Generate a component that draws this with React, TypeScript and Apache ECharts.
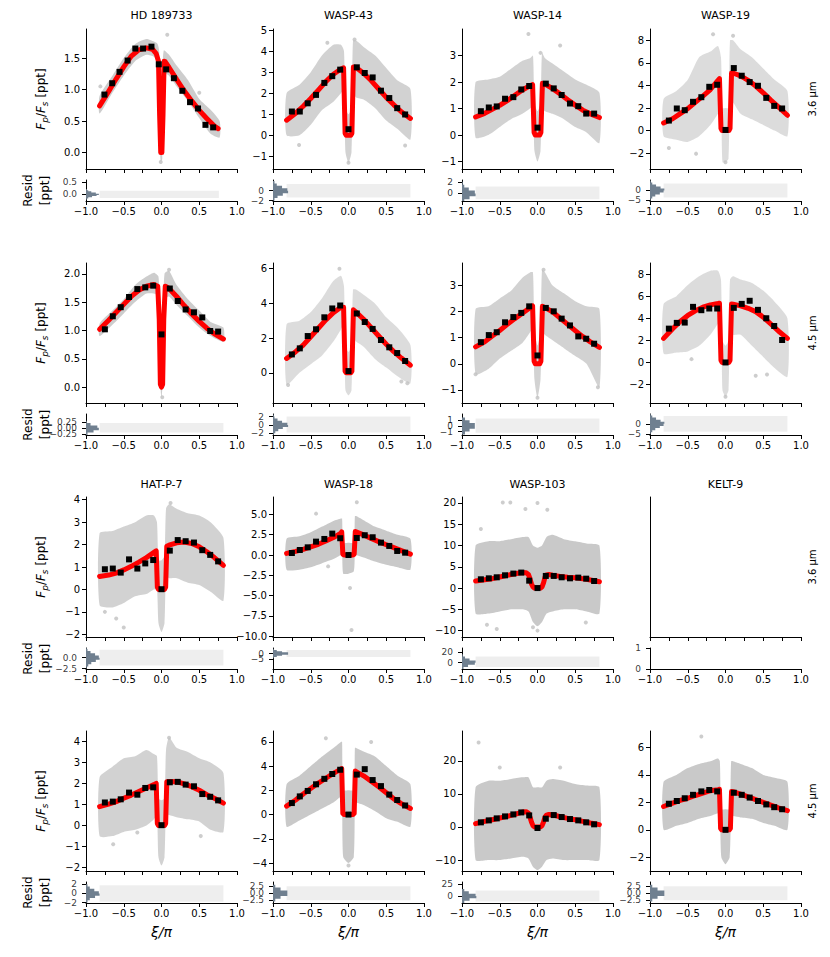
import React, { useEffect, useRef } from "react";
import * as echarts from "echarts";

// ---------- shared values ----------
const BIN_X = [-0.75, -0.645, -0.54, -0.43, -0.32, -0.215, -0.11, 0, 0.11, 0.215, 0.32, 0.43, 0.54, 0.645, 0.75];
const STD_CX = [-0.82, -0.65, -0.5, -0.35, -0.2, -0.1, -0.06, -0.04, 0, 0.04, 0.06, 0.1, 0.2, 0.35, 0.5, 0.65, 0.82];
const DIP_X_STD = [-0.82, -0.7, -0.6, -0.5, -0.4, -0.3, -0.2, -0.1, -0.065, -0.045, -0.03, 0.03, 0.045, 0.065, 0.1, 0.2, 0.3, 0.4, 0.5, 0.6, 0.7, 0.82];
const DIP_X_W19 = [-0.82, -0.7, -0.6, -0.5, -0.4, -0.3, -0.2, -0.1, -0.08, -0.06, -0.045, 0.045, 0.06, 0.08, 0.1, 0.2, 0.3, 0.4, 0.5, 0.6, 0.7, 0.82];
const DIP_X_HP7 = [-0.82, -0.7, -0.6, -0.5, -0.4, -0.3, -0.2, -0.1, -0.07, -0.055, -0.04, 0.04, 0.055, 0.07, 0.1, 0.2, 0.3, 0.4, 0.5, 0.6, 0.7, 0.82];
const DIP_X_W18 = [-0.82, -0.7, -0.6, -0.5, -0.4, -0.3, -0.2, -0.1, -0.09, -0.075, -0.06, 0.06, 0.075, 0.09, 0.1, 0.2, 0.3, 0.4, 0.5, 0.6, 0.7, 0.82];
const DIP_X_W103 = [-0.82, -0.7, -0.6, -0.5, -0.4, -0.3, -0.2, -0.15, -0.12, -0.1, -0.08, -0.06, -0.04, 0.04, 0.06, 0.08, 0.1, 0.12, 0.15, 0.2, 0.3, 0.4, 0.5, 0.6, 0.7, 0.82];
const DIP_X_K9 = [-0.82, -0.7, -0.6, -0.5, -0.4, -0.3, -0.2, -0.1, -0.08, -0.065, -0.05, 0.05, 0.065, 0.08, 0.1, 0.2, 0.3, 0.4, 0.5, 0.6, 0.7, 0.82];

// ---------- HD 189733, 3.6 um ----------
const HD36_MODEL_X = [-0.82, -0.7, -0.6, -0.5, -0.4, -0.3, -0.2, -0.12, -0.07, -0.04, -0.025, -0.01, 0.005, 0.02, 0.035, 0.05, 0.1, 0.2, 0.3, 0.4, 0.5, 0.6, 0.7, 0.75];
const HD36_MODEL_Y = [0.74, 0.97, 1.17, 1.36, 1.53, 1.63, 1.66, 1.64, 1.57, 1.45, 0.6, 0.0, 0.0, 0.6, 1.45, 1.44, 1.35, 1.16, 0.98, 0.82, 0.67, 0.54, 0.42, 0.38];
const HD36_BIN_X = [-0.756, -0.653, -0.556, -0.449, -0.347, -0.244, -0.133, -0.036, 0.062, 0.164, 0.276, 0.378, 0.484, 0.582, 0.684];
const HD36_BIN_Y = [0.92, 1.1, 1.28, 1.46, 1.65, 1.65, 1.68, 1.4, 1.32, 1.18, 0.98, 0.8, 0.7, 0.44, 0.4];
const HD36_CLOUD_X = [-0.82, -0.65, -0.5, -0.35, -0.2, -0.1, -0.05, -0.03, -0.01, 0.01, 0.03, 0.1, 0.2, 0.35, 0.5, 0.65, 0.77];
const HD36_CLOUD_LO = [0.62, 0.95, 1.22, 1.45, 1.55, 1.52, 1.4, 0.3, -0.15, -0.1, 1.25, 1.22, 1.05, 0.82, 0.55, 0.3, 0.24];
const HD36_CLOUD_HI = [0.9, 1.22, 1.5, 1.72, 1.8, 1.76, 1.72, 1.6, 0.6, 1.2, 1.62, 1.55, 1.38, 1.15, 0.85, 0.68, 0.5];
const HD36_OUT_X = [0.076, -0.81, -0.01, 0.5];
const HD36_OUT_Y = [1.87, 1.05, -0.15, 0.95];
const HD36_HIST_Y = [-0.2, -0.15, -0.1, -0.05, 0, 0.05, 0.1, 0.15, 0.2];
const HD36_HIST_W = [0.01, 0.03, 0.08, 0.14, 0.17, 0.13, 0.07, 0.03, 0.01];

// ---------- WASP-43, 3.6 um ----------
const W43A_MODEL_Y = [0.72, 1.05, 1.38, 1.75, 2.15, 2.55, 2.9, 3.15, 3.2, 0.1, 0, 0, 0.1, 3.25, 3.22, 2.95, 2.6, 2.2, 1.8, 1.45, 1.12, 0.8];
const W43A_BIN_Y = [1.13, 1.13, 1.52, 1.92, 2.49, 2.81, 3.12, 0.29, 3.23, 2.96, 2.75, 2.12, 1.77, 1.29, 0.99];
const W43A_CLOUD_LO = [0.0, 0.0, 0.5, 1.2, 1.6, 2.0, 2.2, -0.8, -1.3, -0.8, 2.0, 1.8, 1.7, 1.3, 0.7, 0.3, -0.2];
const W43A_CLOUD_HI = [2.0, 2.4, 3.0, 3.8, 4.3, 4.3, 4.0, 1.3, 1.0, 1.3, 4.5, 4.5, 4.2, 3.8, 3.2, 2.6, 2.2];
const W43A_OUT_X = [-0.655, 0.75, -0.28, 0.08, 0.0];
const W43A_OUT_Y = [-0.46, -0.48, 4.4, 4.55, -1.3];
const W43A_HIST_Y = [-1.75, -1.25, -0.75, -0.25, 0.25, 0.75, 1.25, 1.75];
const W43A_HIST_W = [0.02, 0.06, 0.13, 0.2, 0.19, 0.12, 0.05, 0.02];

// ---------- WASP-14, 3.6 um ----------
const W14A_MODEL_Y = [0.68, 0.82, 0.97, 1.12, 1.3, 1.5, 1.7, 1.86, 1.9, 0.1, 0, 0, 0.1, 1.95, 1.92, 1.75, 1.55, 1.33, 1.13, 0.94, 0.8, 0.66];
const W14A_BIN_Y = [0.9, 1.04, 1.08, 1.37, 1.43, 1.72, 1.85, 0.28, 1.94, 1.76, 1.51, 1.19, 1.09, 0.81, 0.81];
const W14A_CLOUD_LO = [-0.1, 0.0, 0.3, 0.6, 0.8, 1.0, 1.1, -0.6, -1.0, -0.6, 1.0, 0.9, 0.8, 0.6, 0.3, 0.1, -0.3];
const W14A_CLOUD_HI = [2.0, 2.1, 2.2, 2.5, 2.8, 2.9, 3.0, 1.2, 0.9, 1.2, 3.1, 2.9, 2.7, 2.4, 2.1, 1.9, 1.6];
const W14A_OUT_X = [-0.12, 0.3, 0.04];
const W14A_OUT_Y = [3.81, 3.38, 3.1];
const W14A_HIST_Y = [-1.25, -0.75, -0.25, 0.25, 0.75, 1.25, 1.75];
const W14A_HIST_W = [0.03, 0.1, 0.18, 0.17, 0.09, 0.03, 0.01];

// ---------- WASP-19, 3.6 um ----------
const W19A_MODEL_Y = [0.68, 1.05, 1.5, 1.95, 2.5, 3.05, 3.64, 4.45, 4.6, 0.2, 0, 0, 0.2, 5.1, 5.1, 4.85, 4.45, 3.95, 3.35, 2.7, 2.1, 1.36];
const W19A_BIN_Y = [0.89, 1.96, 1.81, 2.55, 2.96, 3.88, 4.06, 0.06, 5.54, 4.86, 4.3, 3.97, 2.9, 2.19, 1.96];
const W19A_CLOUD_LO = [-0.5, -0.8, -1.0, -0.5, 0.5, 1.5, 2.0, -2.8, -2.8, -2.5, 2.5, 2.5, 1.5, 1.0, 0.5, 0.0, -0.5];
const W19A_CLOUD_HI = [2.8, 3.5, 4.5, 6.5, 7.0, 7.5, 6.5, 2.0, 2.0, 2.0, 8.0, 8.0, 7.2, 6.5, 5.5, 4.5, 3.5];
const W19A_OUT_X = [-0.165, 0.1, -0.39, -0.75, 0.0];
const W19A_OUT_Y = [8.53, 8.4, -2.04, -1.54, -2.8];
const W19A_HIST_Y = [-4.5, -3.5, -2.5, -1.5, -0.5, 0.5, 1.5, 2.5, 3.5, 4.5];
const W19A_HIST_W = [0.01, 0.03, 0.07, 0.13, 0.18, 0.19, 0.14, 0.08, 0.03, 0.01];

// ---------- HD 189733, 4.5 um ----------
const HD45_MODEL_X = [-0.82, -0.7, -0.6, -0.5, -0.4, -0.3, -0.2, -0.1, -0.05, -0.03, -0.015, 0, 0.015, 0.03, 0.05, 0.1, 0.2, 0.3, 0.4, 0.5, 0.6, 0.7, 0.82];
const HD45_MODEL_Y = [1.02, 1.18, 1.32, 1.46, 1.6, 1.71, 1.78, 1.81, 1.78, 1.2, 0.05, 0.0, 0.05, 1.2, 1.78, 1.74, 1.6, 1.44, 1.29, 1.16, 1.04, 0.94, 0.85];
const HD45_BIN_Y = [1.02, 1.25, 1.41, 1.59, 1.73, 1.76, 1.79, 0.93, 1.74, 1.52, 1.37, 1.32, 1.23, 0.99, 0.98];
const HD45_CLOUD_X = [-0.82, -0.65, -0.5, -0.35, -0.2, -0.1, -0.04, -0.02, 0, 0.02, 0.04, 0.1, 0.2, 0.35, 0.5, 0.65, 0.82];
const HD45_CLOUD_LO = [0.9, 1.1, 1.3, 1.5, 1.65, 1.65, 1.6, 0.2, -0.2, 0.2, 1.55, 1.6, 1.45, 1.25, 1.05, 0.9, 0.8];
const HD45_CLOUD_HI = [1.12, 1.35, 1.55, 1.8, 1.95, 2.02, 1.95, 1.2, 0.4, 1.2, 2.0, 2.05, 1.8, 1.55, 1.35, 1.15, 1.05];
const HD45_OUT_X = [0.1, 0.01];
const HD45_OUT_Y = [2.07, -0.18];
const HD45_HIST_Y = [-0.25, -0.15, -0.05, 0.05, 0.15, 0.25];
const HD45_HIST_W = [0.02, 0.1, 0.17, 0.15, 0.06, 0.01];

// ---------- WASP-43, 4.5 um ----------
const W43B_MODEL_Y = [0.83, 1.22, 1.6, 2.08, 2.57, 3.05, 3.47, 3.78, 3.78, 0.1, 0, 0, 0.1, 3.63, 3.5, 3.09, 2.6, 2.12, 1.65, 1.22, 0.85, 0.44];
const W43B_BIN_Y = [1.06, 1.41, 2.12, 2.51, 3.2, 3.71, 3.88, 0.1, 3.42, 2.93, 2.53, 1.89, 1.47, 1.14, 0.68];
const W43B_CLOUD_LO = [-0.7, 0.0, 0.5, 1.0, 1.8, 2.5, 2.8, -1.0, -1.3, -1.0, 2.0, 1.8, 1.5, 0.8, 0.3, -0.2, -0.6];
const W43B_CLOUD_HI = [2.8, 3.0, 3.5, 4.3, 5.3, 5.6, 5.0, 1.5, 1.2, 1.5, 4.8, 4.8, 4.5, 4.0, 3.2, 2.6, 1.6];
const W43B_OUT_X = [-0.8, -0.12, 0.7, 0.78];
const W43B_OUT_Y = [-0.7, 6.0, -0.5, -0.6];
const W43B_HIST_Y = [-2.25, -1.75, -1.25, -0.75, -0.25, 0.25, 0.75, 1.25, 1.75, 2.25];
const W43B_HIST_W = [0.01, 0.03, 0.07, 0.13, 0.2, 0.19, 0.12, 0.06, 0.02, 0.01];

// ---------- WASP-14, 4.5 um ----------
const W14B_MODEL_Y = [0.65, 0.84, 1.06, 1.28, 1.51, 1.73, 1.94, 2.15, 2.22, 0.1, 0, 0, 0.1, 2.2, 2.15, 1.99, 1.75, 1.51, 1.27, 1.04, 0.84, 0.63];
const W14B_BIN_Y = [0.83, 1.1, 1.21, 1.59, 1.79, 1.95, 2.2, 0.32, 2.14, 2.01, 1.73, 1.47, 1.05, 0.96, 0.77];
const W14B_CLOUD_LO = [-0.4, -0.2, 0.2, 0.5, 0.8, 1.2, 1.4, -0.6, -1.3, -0.6, 1.2, 1.1, 0.9, 0.6, 0.3, 0.0, -0.9];
const W14B_CLOUD_HI = [2.1, 2.2, 2.5, 2.8, 3.3, 3.5, 3.5, 1.3, 0.7, 1.3, 3.6, 3.5, 3.0, 2.7, 2.4, 2.2, 2.1];
const W14B_OUT_X = [-0.82, 0.8, 0.0, 0.08];
const W14B_OUT_Y = [-0.4, -0.9, -1.3, 3.6];
const W14B_HIST_Y = [-1.25, -0.75, -0.25, 0.25, 0.75, 1.25];
const W14B_HIST_W = [0.04, 0.1, 0.17, 0.17, 0.1, 0.04];

// ---------- WASP-19, 4.5 um ----------
const W19B_MODEL_Y = [2.18, 3.05, 3.7, 4.25, 4.67, 5.0, 5.21, 5.33, 5.36, 0.2, 0, 0, 0.2, 5.3, 5.28, 5.12, 4.9, 4.6, 4.1, 3.48, 2.85, 2.18];
const W19B_BIN_Y = [3.06, 3.58, 3.61, 5.03, 4.73, 4.88, 4.88, 0.0, 4.94, 5.3, 5.58, 4.76, 4.0, 3.3, 2.03];
const W19B_CLOUD_LO = [0.8, 0.9, 1.0, 1.5, 2.5, 3.5, 3.8, -2.5, -3.1, -2.5, 3.0, 2.5, 2.5, 1.5, 0.5, -0.5, -1.3];
const W19B_CLOUD_HI = [5.3, 6.0, 7.0, 7.8, 8.3, 8.3, 7.5, 2.0, 1.5, 2.0, 7.5, 7.8, 7.5, 7.2, 6.5, 5.5, 4.0];
const W19B_OUT_X = [-0.45, 0.4, 0.55, 0.0];
const W19B_OUT_Y = [0.3, -1.2, -1.1, -3.1];
const W19B_HIST_Y = [-4.5, -3.5, -2.5, -1.5, -0.5, 0.5, 1.5, 2.5, 3.5, 4.5];
const W19B_HIST_W = [0.01, 0.03, 0.07, 0.13, 0.18, 0.19, 0.14, 0.08, 0.03, 0.01];

// ---------- HAT-P-7, 3.6 um ----------
const HP7A_MODEL_Y = [0.58, 0.64, 0.73, 0.87, 1.03, 1.22, 1.42, 1.65, 1.72, 0.1, 0, 0, 0.1, 1.92, 1.97, 2.08, 2.11, 2.05, 1.9, 1.68, 1.42, 1.07];
const HP7A_BIN_Y = [0.9, 0.93, 0.75, 1.34, 0.93, 1.16, 1.31, 0.01, 1.73, 2.2, 2.15, 2.09, 1.75, 1.54, 1.25];
const HP7A_CLOUD_LO = [-0.7, -0.8, -0.6, -0.3, -0.2, 0.0, 0.0, -1.5, -1.9, -1.5, 0.6, 0.5, 0.5, 0.3, 0.2, -0.1, -0.5];
const HP7A_CLOUD_HI = [2.5, 2.6, 2.8, 3.0, 3.3, 3.3, 3.0, 1.3, 1.3, 1.5, 3.6, 3.8, 3.6, 3.4, 3.3, 3.0, 2.3];
const HP7A_OUT_X = [-0.5, -0.75, 0.12, -0.6];
const HP7A_OUT_Y = [-1.7, -1.0, 3.85, -1.3];
const HP7A_HIST_Y = [-2.25, -1.75, -1.25, -0.75, -0.25, 0.25, 0.75, 1.25, 1.75, 2.25];
const HP7A_HIST_W = [0.01, 0.03, 0.07, 0.13, 0.18, 0.17, 0.12, 0.06, 0.02, 0.01];

// ---------- WASP-18, 3.6 um ----------
const W18A_MODEL_Y = [0.2, 0.45, 0.7, 1.0, 1.32, 1.72, 2.15, 2.7, 2.85, 0.1, 0, 0, 0.1, 2.9, 2.85, 2.48, 2.05, 1.65, 1.27, 0.91, 0.55, 0.12];
const W18A_BIN_Y = [0.25, 0.62, 0.95, 1.65, 1.98, 2.64, 2.07, 0.0, 2.1, 2.44, 2.19, 1.53, 1.12, 0.5, 0.29];
const W18_CLOUD_X = [-0.82, -0.65, -0.5, -0.35, -0.2, -0.1, -0.085, -0.07, 0, 0.07, 0.085, 0.1, 0.2, 0.35, 0.5, 0.65, 0.82];
const W18A_CLOUD_LO = [-1.8, -1.8, -1.5, -1.0, -0.5, 0.0, 0.0, -2.3, -2.3, -2.0, 0.0, 0.0, -0.3, -0.8, -1.2, -1.5, -1.8];
const W18A_CLOUD_HI = [2.0, 2.3, 2.8, 3.5, 4.2, 4.5, 4.5, 1.5, 1.5, 1.5, 4.8, 4.8, 4.3, 3.5, 3.0, 2.5, 2.0];
const W18A_OUT_X = [0.02, 0.04, 0.11, -0.43, -0.27];
const W18A_OUT_Y = [-4.05, -9.25, 6.5, 5.1, -1.4];
const W18A_HIST_Y = [-3.5, -2.5, -1.5, -0.5, 0.5, 1.5, 2.5, 3.5];
const W18A_HIST_W = [0.01, 0.05, 0.12, 0.2, 0.2, 0.12, 0.05, 0.01];

// ---------- WASP-103, 3.6 um ----------
const W103A_MODEL_Y = [1.66, 1.95, 2.21, 2.6, 3.0, 3.35, 3.64, 3.6, 3.2, 2.2, 1.0, 0.3, 0, 0, 0.3, 1.2, 2.6, 3.1, 3.2, 3.0, 2.75, 2.53, 2.4, 2.21, 1.9, 1.5];
const W103A_BIN_Y = [2.06, 2.29, 2.53, 3.0, 3.4, 3.64, 1.74, 0.0, 2.85, 2.85, 2.53, 2.29, 2.45, 2.21, 1.66];
const W103_CLOUD_X = [-0.82, -0.65, -0.5, -0.35, -0.2, -0.12, -0.06, 0, 0.06, 0.12, 0.2, 0.35, 0.5, 0.65, 0.82];
const W103A_CLOUD_LO = [-6, -6, -5.5, -5, -5, -5.5, -8, -9, -8, -6, -5.5, -5, -5, -5.5, -6];
const W103A_CLOUD_HI = [10, 11, 11, 11.5, 12, 12, 10, 9.5, 10, 12, 12.5, 11.5, 11, 10.5, 10];
const W103A_OUT_X = [-0.46, -0.36, 0.0, -0.16, 0.13, -0.75, -0.06, 0.0, -0.54, -0.67, 0.64];
const W103A_OUT_Y = [20.1, 20.1, 20, 18.6, 18.4, 13.9, -9.2, -10, -9.6, -8.6, -8.1];
const W103A_HIST_Y = [-10, -6, -2, 2, 6, 10, 14];
const W103A_HIST_W = [0.02, 0.08, 0.17, 0.18, 0.1, 0.04, 0.01];

// ---------- HAT-P-7, 4.5 um ----------
const HP7B_MODEL_Y = [0.9, 1.02, 1.14, 1.3, 1.45, 1.62, 1.79, 1.95, 2.01, 0.1, 0, 0, 0.1, 2.09, 2.1, 2.09, 1.98, 1.85, 1.68, 1.47, 1.3, 1.07];
const HP7B_BIN_Y = [1.1, 1.14, 1.25, 1.57, 1.47, 1.79, 1.82, 0.02, 2.06, 2.08, 1.95, 1.87, 1.5, 1.37, 1.2];
const HP7B_CLOUD_LO = [-0.5, -0.5, -0.3, -0.2, 0.0, 0.3, 0.5, -1.5, -1.9, -1.5, 0.5, 0.5, 0.4, 0.3, 0.2, -0.2, -0.3];
const HP7B_CLOUD_HI = [2.3, 2.8, 3.2, 3.3, 3.6, 3.4, 3.3, 1.3, 1.2, 1.3, 3.6, 4.2, 3.7, 3.5, 3.2, 3.0, 2.5];
const HP7B_OUT_X = [-0.64, -0.32, 0.52, 0.1];
const HP7B_OUT_Y = [-0.89, -0.33, -0.5, 4.18];
const HP7B_HIST_Y = [-1.75, -1.25, -0.75, -0.25, 0.25, 0.75, 1.25, 1.75];
const HP7B_HIST_W = [0.02, 0.05, 0.12, 0.18, 0.17, 0.11, 0.05, 0.02];

// ---------- WASP-18, 4.5 um ----------
const W18B_MODEL_Y = [0.7, 1.2, 1.7, 2.15, 2.6, 3.0, 3.4, 3.75, 3.8, 0.1, 0, 0, 0.1, 3.6, 3.55, 3.2, 2.75, 2.3, 1.8, 1.3, 0.9, 0.5];
const W18B_BIN_Y = [0.95, 1.5, 1.95, 2.5, 2.95, 3.35, 3.7, 0.0, 3.3, 3.75, 2.85, 2.35, 1.65, 1.2, 0.75];
const W18B_CLOUD_LO = [-1.0, -0.5, 0.0, 0.5, 1.0, 1.5, 1.5, -3.5, -4.0, -3.5, 1.0, 1.0, 0.8, 0.3, -0.3, -0.6, -1.0];
const W18B_CLOUD_HI = [2.5, 3.2, 4.0, 4.8, 5.5, 6.0, 6.0, 2.0, 2.0, 2.0, 5.5, 5.5, 5.2, 4.8, 4.0, 3.2, 2.5];
const W18B_OUT_X = [0.0, -0.3, 0.3];
const W18B_OUT_Y = [-4.2, 6.3, 6.0];
const W18B_HIST_Y = [-2.5, -1.5, -0.5, 0.5, 1.5, 2.5];
const W18B_HIST_W = [0.03, 0.1, 0.19, 0.19, 0.1, 0.03];

// ---------- WASP-103, 4.5 um ----------
const W103B_MODEL_Y = [1.0, 1.7, 2.2, 2.7, 3.2, 3.8, 4.5, 4.6, 4.2, 3.0, 1.5, 0.4, 0, 0, 0.4, 1.5, 3.0, 3.6, 3.8, 3.7, 3.1, 2.6, 2.2, 1.7, 1.2, 0.7];
const W103B_BIN_Y = [1.4, 2.0, 2.6, 3.2, 3.8, 4.4, 3.5, -0.3, 2.5, 3.6, 3.0, 2.4, 2.0, 1.4, 0.8];
const W103B_CLOUD_LO = [-10, -10, -10, -9.5, -9, -9.5, -12, -13, -12, -10, -9.5, -10, -10, -10, -10];
const W103B_CLOUD_HI = [12, 14, 14, 14.5, 15, 15, 12, 12, 12, 14, 14.5, 14, 13, 12.5, 12];
const W103B_OUT_X = [-0.78, -0.5, 0.3];
const W103B_OUT_Y = [25.5, 18, 18];
const W103B_HIST_Y = [-12.5, -7.5, -2.5, 2.5, 7.5, 12.5];
const W103B_HIST_W = [0.03, 0.1, 0.19, 0.18, 0.09, 0.03];

// ---------- KELT-9, 4.5 um ----------
const K9B_MODEL_Y = [1.7, 1.95, 2.15, 2.3, 2.5, 2.68, 2.85, 2.93, 2.95, 0.1, 0, 0, 0.1, 2.8, 2.78, 2.6, 2.4, 2.2, 2.0, 1.8, 1.6, 1.4];
const K9B_BIN_Y = [1.9, 2.1, 2.3, 2.55, 2.8, 2.9, 2.8, 0.0, 2.7, 2.55, 2.35, 2.1, 1.85, 1.65, 1.5];
const K9B_CLOUD_X = [-0.82, -0.65, -0.5, -0.35, -0.2, -0.1, -0.075, -0.055, 0, 0.055, 0.075, 0.1, 0.2, 0.35, 0.5, 0.65, 0.82];
const K9B_CLOUD_LO = [0.0, 0.3, 0.5, 0.8, 1.0, 1.2, 1.2, -2.0, -2.5, -2.0, 1.0, 1.0, 0.9, 0.8, 0.5, 0.3, 0.0];
const K9B_CLOUD_HI = [3.5, 4.0, 4.5, 4.8, 5.0, 5.2, 5.0, 1.5, 1.5, 1.5, 5.0, 5.0, 4.8, 4.5, 4.0, 3.8, 3.5];
const K9B_OUT_X = [-0.32];
const K9B_OUT_Y = [6.8];
const K9B_HIST_Y = [-2.5, -1.5, -0.5, 0.5, 1.5, 2.5];
const K9B_HIST_W = [0.03, 0.1, 0.19, 0.19, 0.1, 0.03];

// ---------- texts ----------
const TITLES_ROW1 = ["HD 189733", "WASP-43", "WASP-14", "WASP-19"];
const TITLES_ROW3 = ["HAT-P-7", "WASP-18", "WASP-103", "KELT-9"];
const ROW_LABELS = ["3.6 \u03bcm", "4.5 \u03bcm", "3.6 \u03bcm", "4.5 \u03bcm"];

// ---------- layout ----------
const COL_LEFT = [86, 273, 462, 650];
const ROW_TOP = [29, 263, 497, 731];
const PW = 151;
const MH = 140;
const RGAP = 151;
const RH = 21;
const FONT = "'DejaVu Sans', sans-serif";

const MINUS = "\u2212";
const fmt = (v: number, d: number) => {
  const s = Math.abs(v) < 1e-9 ? (0).toFixed(d) : v.toFixed(d);
  return s.replace("-", MINUS);
};

interface Panel {
  row: number; col: number;
  modelX?: number[]; modelY?: number[];
  binX?: number[]; binY?: number[];
  cloudX?: number[]; cloudLo?: number[]; cloudHi?: number[]; cloudFill?: string;
  outX?: number[]; outY?: number[];
  yMin: number; yMax: number; yTicks: number[]; yDec: number;
  rMin: number; rMax: number; rTicks: number[]; rDec: number;
  rSpan?: number[]; rX?: number[]; histY?: number[]; histW?: number[];
}

const SILVER = "#c0c0c0";
const DENSE = "rgba(192,192,192,0.85)";
const MEDIUM = "rgba(192,192,192,0.72)";
const SPARSE = "rgba(192,192,192,0.55)";
const NARROW = "rgba(192,192,192,0.8)";

const PANELS: Panel[] = [
  { row: 0, col: 0, modelX: HD36_MODEL_X, modelY: HD36_MODEL_Y, binX: HD36_BIN_X, binY: HD36_BIN_Y, cloudX: HD36_CLOUD_X, cloudLo: HD36_CLOUD_LO, cloudHi: HD36_CLOUD_HI, cloudFill: NARROW, outX: HD36_OUT_X, outY: HD36_OUT_Y, yMin: -0.26, yMax: 1.96, yTicks: [0, 0.5, 1, 1.5], yDec: 1, rMin: -0.28, rMax: 0.6, rTicks: [0, 0.5], rDec: 1, rSpan: [-0.15, 0.15], rX: [-0.82, 0.76], histY: HD36_HIST_Y, histW: HD36_HIST_W },
  { row: 0, col: 1, modelX: DIP_X_STD, modelY: W43A_MODEL_Y, binX: BIN_X, binY: W43A_BIN_Y, cloudX: STD_CX, cloudLo: W43A_CLOUD_LO, cloudHi: W43A_CLOUD_HI, cloudFill: MEDIUM, outX: W43A_OUT_X, outY: W43A_OUT_Y, yMin: -1.6, yMax: 5.05, yTicks: [-1, 0, 1, 2, 3, 4, 5], yDec: 0, rMin: -2.1, rMax: 2.2, rTicks: [-2, 0], rDec: 0, rSpan: [-1.4, 1.4], rX: [-0.82, 0.82], histY: W43A_HIST_Y, histW: W43A_HIST_W },
  { row: 0, col: 2, modelX: DIP_X_STD, modelY: W14A_MODEL_Y, binX: BIN_X, binY: W14A_BIN_Y, cloudX: STD_CX, cloudLo: W14A_CLOUD_LO, cloudHi: W14A_CLOUD_HI, cloudFill: MEDIUM, outX: W14A_OUT_X, outY: W14A_OUT_Y, yMin: -1.28, yMax: 4.0, yTicks: [-1, 0, 1, 2, 3], yDec: 0, rMin: -1.3, rMax: 2.3, rTicks: [0, 2], rDec: 0, rSpan: [-1.0, 1.2], rX: [-0.82, 0.82], histY: W14A_HIST_Y, histW: W14A_HIST_W },
  { row: 0, col: 3, modelX: DIP_X_W19, modelY: W19A_MODEL_Y, binX: BIN_X, binY: W19A_BIN_Y, cloudX: STD_CX, cloudLo: W19A_CLOUD_LO, cloudHi: W19A_CLOUD_HI, cloudFill: SPARSE, outX: W19A_OUT_X, outY: W19A_OUT_Y, yMin: -3.4, yMax: 9.0, yTicks: [-2, 0, 2, 4, 6, 8], yDec: 0, rMin: -5.3, rMax: 5.2, rTicks: [-5, 0], rDec: 0, rSpan: [-3.5, 3.5], rX: [-0.82, 0.82], histY: W19A_HIST_Y, histW: W19A_HIST_W },

  { row: 1, col: 0, modelX: HD45_MODEL_X, modelY: HD45_MODEL_Y, binX: BIN_X, binY: HD45_BIN_Y, cloudX: HD45_CLOUD_X, cloudLo: HD45_CLOUD_LO, cloudHi: HD45_CLOUD_HI, cloudFill: NARROW, outX: HD45_OUT_X, outY: HD45_OUT_Y, yMin: -0.28, yMax: 2.19, yTicks: [0, 0.5, 1, 1.5, 2], yDec: 1, rMin: -0.3, rMax: 0.58, rTicks: [-0.25, 0, 0.25], rDec: 2, rSpan: [-0.2, 0.2], rX: [-0.82, 0.82], histY: HD45_HIST_Y, histW: HD45_HIST_W },
  { row: 1, col: 1, modelX: DIP_X_STD, modelY: W43B_MODEL_Y, binX: BIN_X, binY: W43B_BIN_Y, cloudX: STD_CX, cloudLo: W43B_CLOUD_LO, cloudHi: W43B_CLOUD_HI, cloudFill: SPARSE, outX: W43B_OUT_X, outY: W43B_OUT_Y, yMin: -1.74, yMax: 6.33, yTicks: [0, 2, 4, 6], yDec: 0, rMin: -2.4, rMax: 2.6, rTicks: [-2, 0, 2], rDec: 0, rSpan: [-1.8, 2.0], rX: [-0.82, 0.82], histY: W43B_HIST_Y, histW: W43B_HIST_W },
  { row: 1, col: 2, modelX: DIP_X_STD, modelY: W14B_MODEL_Y, binX: BIN_X, binY: W14B_BIN_Y, cloudX: STD_CX, cloudLo: W14B_CLOUD_LO, cloudHi: W14B_CLOUD_HI, cloudFill: MEDIUM, outX: W14B_OUT_X, outY: W14B_OUT_Y, yMin: -1.5, yMax: 3.86, yTicks: [-1, 0, 1, 2, 3], yDec: 0, rMin: -1.6, rMax: 2.1, rTicks: [-1, 0, 1], rDec: 0, rSpan: [-1.2, 1.3], rX: [-0.82, 0.82], histY: W14B_HIST_Y, histW: W14B_HIST_W },
  { row: 1, col: 3, modelX: DIP_X_W19, modelY: W19B_MODEL_Y, binX: BIN_X, binY: W19B_BIN_Y, cloudX: STD_CX, cloudLo: W19B_CLOUD_LO, cloudHi: W19B_CLOUD_HI, cloudFill: SPARSE, outX: W19B_OUT_X, outY: W19B_OUT_Y, yMin: -3.67, yMax: 9.0, yTicks: [-2, 0, 2, 4, 6, 8], yDec: 0, rMin: -5.3, rMax: 4.7, rTicks: [-5, 0], rDec: 0, rSpan: [-3.8, 3.8], rX: [-0.82, 0.82], histY: W19B_HIST_Y, histW: W19B_HIST_W },

  { row: 2, col: 0, modelX: DIP_X_HP7, modelY: HP7A_MODEL_Y, binX: BIN_X, binY: HP7A_BIN_Y, cloudX: STD_CX, cloudLo: HP7A_CLOUD_LO, cloudHi: HP7A_CLOUD_HI, cloudFill: MEDIUM, outX: HP7A_OUT_X, outY: HP7A_OUT_Y, yMin: -2.12, yMax: 4.12, yTicks: [-2, -1, 0, 1, 2, 3, 4], yDec: 0, rMin: -2.6, rMax: 2.2, rTicks: [-2.5, 0], rDec: 1, rSpan: [-1.8, 1.8], rX: [-0.82, 0.82], histY: HP7A_HIST_Y, histW: HP7A_HIST_W },
  { row: 2, col: 1, modelX: DIP_X_W18, modelY: W18A_MODEL_Y, binX: BIN_X, binY: W18A_BIN_Y, cloudX: W18_CLOUD_X, cloudLo: W18A_CLOUD_LO, cloudHi: W18A_CLOUD_HI, cloudFill: DENSE, outX: W18A_OUT_X, outY: W18A_OUT_Y, yMin: -10.1, yMax: 7.15, yTicks: [-10, -7.5, -5, -2.5, 0, 2.5, 5], yDec: 1, rMin: -13.3, rMax: 4.75, rTicks: [-5, 0], rDec: 0, rSpan: [-3, 3], rX: [-0.82, 0.82], histY: W18A_HIST_Y, histW: W18A_HIST_W },
  { row: 2, col: 2, modelX: DIP_X_W103, modelY: W103A_MODEL_Y, binX: BIN_X, binY: W103A_BIN_Y, cloudX: W103_CLOUD_X, cloudLo: W103A_CLOUD_LO, cloudHi: W103A_CLOUD_HI, cloudFill: DENSE, outX: W103A_OUT_X, outY: W103A_OUT_Y, yMin: -11.5, yMax: 21.4, yTicks: [-10, -5, 0, 5, 10, 15, 20], yDec: 0, rMin: -12, rMax: 28, rTicks: [0, 20], rDec: 0, rSpan: [-8, 12], rX: [-0.82, 0.82], histY: W103A_HIST_Y, histW: W103A_HIST_W },
  { row: 2, col: 3, yMin: 0, yMax: 1, yTicks: [], yDec: 0, rMin: 0, rMax: 1, rTicks: [0, 1], rDec: 0 },

  { row: 3, col: 0, modelX: DIP_X_HP7, modelY: HP7B_MODEL_Y, binX: BIN_X, binY: HP7B_BIN_Y, cloudX: STD_CX, cloudLo: HP7B_CLOUD_LO, cloudHi: HP7B_CLOUD_HI, cloudFill: MEDIUM, outX: HP7B_OUT_X, outY: HP7B_OUT_Y, yMin: -2.16, yMax: 4.5, yTicks: [-2, -1, 0, 1, 2, 3, 4], yDec: 0, rMin: -2.1, rMax: 2.5, rTicks: [-2, 0, 2], rDec: 0, rSpan: [-1.8, 1.8], rX: [-0.82, 0.82], histY: HP7B_HIST_Y, histW: HP7B_HIST_W },
  { row: 3, col: 1, modelX: DIP_X_W18, modelY: W18B_MODEL_Y, binX: BIN_X, binY: W18B_BIN_Y, cloudX: W18_CLOUD_X, cloudLo: W18B_CLOUD_LO, cloudHi: W18B_CLOUD_HI, cloudFill: DENSE, outX: W18B_OUT_X, outY: W18B_OUT_Y, yMin: -4.66, yMax: 6.9, yTicks: [-4, -2, 0, 2, 4, 6], yDec: 0, rMin: -3.5, rMax: 4.0, rTicks: [-2.5, 0, 2.5], rDec: 1, rSpan: [-2.5, 2.5], rX: [-0.82, 0.82], histY: W18B_HIST_Y, histW: W18B_HIST_W },
  { row: 3, col: 2, modelX: DIP_X_W103, modelY: W103B_MODEL_Y, binX: BIN_X, binY: W103B_BIN_Y, cloudX: W103_CLOUD_X, cloudLo: W103B_CLOUD_LO, cloudHi: W103B_CLOUD_HI, cloudFill: DENSE, outX: W103B_OUT_X, outY: W103B_OUT_Y, yMin: -13.3, yMax: 29, yTicks: [-10, 0, 10, 20], yDec: 0, rMin: -15, rMax: 30, rTicks: [0, 25], rDec: 0, rSpan: [-12, 12], rX: [-0.82, 0.82], histY: W103B_HIST_Y, histW: W103B_HIST_W },
  { row: 3, col: 3, modelX: DIP_X_K9, modelY: K9B_MODEL_Y, binX: BIN_X, binY: K9B_BIN_Y, cloudX: K9B_CLOUD_X, cloudLo: K9B_CLOUD_LO, cloudHi: K9B_CLOUD_HI, cloudFill: DENSE, outX: K9B_OUT_X, outY: K9B_OUT_Y, yMin: -3.0, yMax: 7.2, yTicks: [-2, 0, 2, 4, 6], yDec: 0, rMin: -3.5, rMax: 4.0, rTicks: [-2.5, 0, 2.5], rDec: 1, rSpan: [-2.5, 2.5], rX: [-0.82, 0.82], histY: K9B_HIST_Y, histW: K9B_HIST_W },
];

const LINE = { color: "#000", width: 1 };
const LABEL = { color: "#000", fontSize: 10, fontFamily: FONT };

function buildOption() {
  const grid: any[] = [];
  const xAxis: any[] = [];
  const yAxis: any[] = [];
  const series: any[] = [];
  const graphic: any[] = [];

  PANELS.forEach((p, i) => {
    const L = COL_LEFT[p.col];
    const T = ROW_TOP[p.row];
    const gm = 2 * i;
    const gr = 2 * i + 1;
    grid.push({ left: L, top: T, width: PW, height: MH });
    grid.push({ left: L, top: T + RGAP, width: PW, height: RH });

    xAxis.push({
      type: "value", gridIndex: gm, min: -1, max: 1, interval: 0.25,
      axisLine: { show: true, onZero: false, lineStyle: LINE },
      axisTick: { show: true, length: 4, lineStyle: LINE },
      axisLabel: { show: false }, splitLine: { show: false },
    });
    xAxis.push({
      type: "value", gridIndex: gr, min: -1, max: 1, interval: 0.5,
      axisLine: { show: true, onZero: false, lineStyle: LINE },
      axisTick: { show: true, length: 4, lineStyle: LINE },
      axisLabel: { show: true, margin: 5, showMinLabel: true, showMaxLabel: true, hideOverlap: false, formatter: (v: number) => fmt(v, 1), ...LABEL },
      splitLine: { show: false },
    });
    const hasY = p.yTicks.length > 0;
    yAxis.push({
      type: "value", gridIndex: gm, min: p.yMin, max: p.yMax,
      axisLine: { show: true, onZero: false, lineStyle: LINE },
      axisTick: hasY ? { show: true, length: 4, customValues: p.yTicks, lineStyle: LINE } : { show: false },
      axisLabel: hasY ? { show: true, customValues: p.yTicks, margin: 6, showMinLabel: true, showMaxLabel: true, hideOverlap: false, formatter: (v: number) => fmt(v, p.yDec), ...LABEL } : { show: false },
      splitLine: { show: false },
    });
    // residual y axis: ticks from the axis, labels placed by a label-only series (avoids auto overlap hiding)
    yAxis.push({
      type: "value", gridIndex: gr, min: p.rMin, max: p.rMax,
      axisLine: { show: true, onZero: false, lineStyle: LINE },
      axisTick: { show: true, length: 4, customValues: p.rTicks, lineStyle: LINE },
      axisLabel: { show: false },
      splitLine: { show: false },
    });
    const rDec = p.rDec;
    series.push({
      type: "scatter", xAxisIndex: gr, yAxisIndex: gr, silent: true, clip: false, z: 5,
      symbolSize: 0, itemStyle: { color: "rgba(0,0,0,0)" },
      data: p.rTicks.map((v) => [-1, v]),
      label: {
        show: true, position: "left", distance: 9, color: "#000", fontSize: 9, lineHeight: 9, fontFamily: FONT,
        formatter: (prm: any) => fmt(prm.value[1], rDec),
      },
      labelLayout: { hideOverlap: false },
    });

    if (p.cloudX && p.cloudLo && p.cloudHi) {
      const cx = p.cloudX, lo = p.cloudLo, hi = p.cloudHi;
      series.push({
        type: "custom", xAxisIndex: gm, yAxisIndex: gm, silent: true, clip: true, z: 1,
        data: cx.map((x, k) => [x, lo[k], hi[k]]),
        encode: { x: 0, y: [1, 2] },
        renderItem: (params: any, api: any) => {
          if (params.dataIndex !== 0) return { type: "group", children: [] };
          const top = cx.map((x, k) => api.coord([x, hi[k]]));
          const bot = cx.map((x, k) => api.coord([x, lo[k]])).reverse();
          return { type: "polygon", shape: { points: top.concat(bot), smooth: 0.2 }, style: { fill: p.cloudFill || SILVER } };
        },
      });
    }
    if (p.outX && p.outY) {
      const ox = p.outX, oy = p.outY;
      series.push({
        type: "scatter", xAxisIndex: gm, yAxisIndex: gm, silent: true, z: 2,
        symbol: "circle", symbolSize: 4, itemStyle: { color: SILVER },
        data: ox.map((x, k) => [x, oy[k]]),
      });
    }
    if (p.modelX && p.modelY) {
      const mx = p.modelX, my = p.modelY;
      series.push({
        type: "line", xAxisIndex: gm, yAxisIndex: gm, silent: true, z: 3,
        showSymbol: false, symbol: "none",
        lineStyle: { color: "#ff0000", width: 5, cap: "round", join: "round" },
        data: mx.map((x, k) => [x, my[k]]),
      });
    }
    if (p.binX && p.binY) {
      const bx = p.binX, by = p.binY;
      series.push({
        type: "scatter", xAxisIndex: gm, yAxisIndex: gm, silent: true, z: 4,
        symbol: "rect", symbolSize: 6, itemStyle: { color: "#000", opacity: 1 },
        data: bx.map((x, k) => [x, by[k]]),
      });
    }
    if (p.rSpan && p.rX) {
      const rs = p.rSpan, rx = p.rX;
      series.push({
        type: "custom", xAxisIndex: gr, yAxisIndex: gr, silent: true, clip: true, z: 1,
        data: [[rx[0], rs[0]], [rx[1], rs[1]]],
        renderItem: (params: any, api: any) => {
          if (params.dataIndex !== 0) return { type: "group", children: [] };
          const a = api.coord([rx[0], rs[1]]);
          const b = api.coord([rx[1], rs[0]]);
          return { type: "rect", shape: { x: a[0], y: a[1], width: b[0] - a[0], height: b[1] - a[1] }, style: { fill: "rgba(200,200,200,0.3)" } };
        },
      });
    }
    if (p.histY && p.histW) {
      const hy = p.histY, hw = p.histW;
      const h = hy.length > 1 ? hy[1] - hy[0] : 0.1;
      series.push({
        type: "custom", xAxisIndex: gr, yAxisIndex: gr, silent: true, clip: true, z: 2,
        data: hy.map((y, k) => [-1 + hw[k], y]),
        renderItem: (params: any, api: any) => {
          if (params.dataIndex !== 0) return { type: "group", children: [] };
          const pts: number[][] = [api.coord([-1, hy[0] - h / 2])];
          hy.forEach((y, k) => {
            pts.push(api.coord([-1 + hw[k], y - h / 2]));
            pts.push(api.coord([-1 + hw[k], y + h / 2]));
          });
          pts.push(api.coord([-1, hy[hy.length - 1] + h / 2]));
          return { type: "polygon", shape: { points: pts }, style: { fill: "#708090" } };
        },
      });
    }
  });

  const text = (x: number, y: number, t: string, size: number, extra: any = {}) => ({
    type: "text", x, y, rotation: extra.rot || 0, silent: true, z: 10,
    style: {
      text: t, fontSize: size, fontFamily: FONT, fontStyle: extra.italic ? "italic" : "normal",
      fill: "#000", textAlign: "center", textVerticalAlign: "middle", align: "center", verticalAlign: "middle",
      lineHeight: extra.lh, rich: extra.rich,
    },
  });

  TITLES_ROW1.forEach((t, c) => graphic.push(text(COL_LEFT[c] + PW / 2, ROW_TOP[0] - 14, t, 11)));
  TITLES_ROW3.forEach((t, c) => graphic.push(text(COL_LEFT[c] + PW / 2, ROW_TOP[2] - 13, t, 11)));
  ROW_LABELS.forEach((t, r) => graphic.push(text(812, ROW_TOP[r] + MH / 2, t, 10, { rot: Math.PI / 2 })));
  ROW_TOP.forEach((T) => {
    graphic.push(text(41, T + MH / 2, "{it|F}{sub|p}{n|/}{it|F}{sub|s}{n| [ppt]}", 12, {
      rot: Math.PI / 2,
      rich: {
        it: { fontSize: 12, fontStyle: "italic", fontFamily: FONT, fill: "#000", lineHeight: 16 },
        n: { fontSize: 12, fontFamily: FONT, fill: "#000", lineHeight: 16 },
        sub: { fontSize: 9, fontStyle: "italic", fontFamily: FONT, fill: "#000", lineHeight: 9, verticalAlign: "bottom" },
      },
    }));
    graphic.push(text(36, T + RGAP + RH / 2, "Resid\n[ppt]", 12, { rot: Math.PI / 2, lh: 17 }));
  });
  COL_LEFT.forEach((L) => graphic.push(text(L + PW / 2, 932, "\u03be/\u03c0", 14, { italic: true })));

  return {
    animation: false,
    backgroundColor: "#ffffff",
    grid, xAxis, yAxis, series, graphic,
  };
}

export default function App() {
  const ref = useRef<HTMLDivElement>(null);
  useEffect(() => {
    if (!ref.current) return;
    const chart = echarts.init(ref.current, undefined, { renderer: "svg" });
    chart.setOption(buildOption() as any);
    return () => chart.dispose();
  }, []);
  return <div ref={ref} style={{ position: "absolute", left: 0, top: 0, width: 830, height: 957, background: "#fff" }} />;
}
